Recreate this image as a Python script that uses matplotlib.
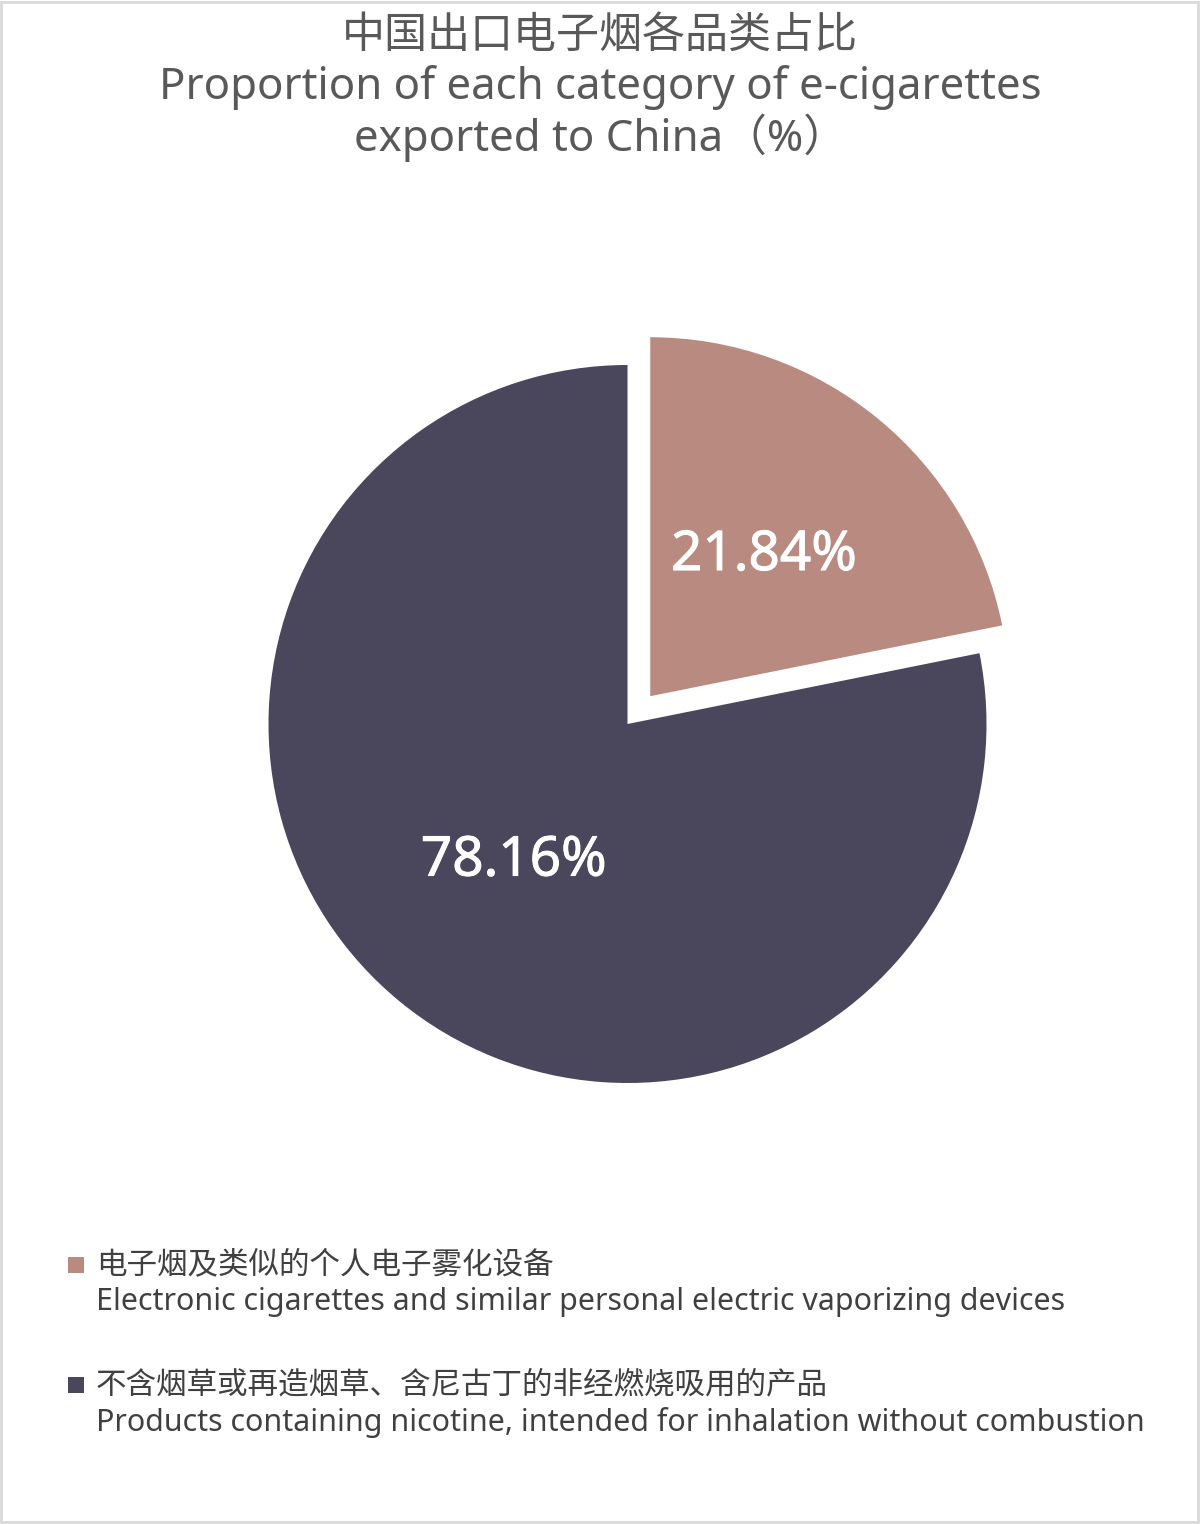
import matplotlib.pyplot as plt
import matplotlib.patheffects as pe
from matplotlib.patches import Rectangle
import numpy as np

plt.rcParams['font.family'] = ['Noto Sans', 'Noto Sans CJK SC', 'DejaVu Sans']

# data
values = [21.84, 78.16]
colors = ['#b98a80', '#4a465b']
names_cn = ['电子烟及类似的个人电子雾化设备',
            '不含烟草或再造烟草、含尼古丁的非经燃烧吸用的产品']
names_en = ['Electronic cigarettes and similar personal electric vaporizing devices',
            'Products containing nicotine, intended for inhalation without combustion']
title_lines = ['中国出口电子烟各品类占比',
               'Proportion of each category of e-cigarettes',
               'exported to China（%）']

W, H = 1200, 1524
fig = plt.figure(figsize=(W / 100, H / 100), dpi=100)
fig.patch.set_facecolor('white')

# pie axes, placed by pixels
R = 359
cx, cy = 627.5, 724
half = 1.2 * R
ax = fig.add_axes([(cx - half) / W, (H - cy - half) / H, 2 * half / W, 2 * half / H])
wedges = ax.pie(values, colors=colors, startangle=90, counterclock=False,
                explode=[0.1, 0], radius=1,
                wedgeprops=dict(linewidth=0))[0]
ax.set_xlim(-1.2, 1.2)
ax.set_ylim(-1.2, 1.2)
ax.set_aspect('equal')
ax.axis('off')

# percentage labels at half radius (thin stroke to look medium weight)
for w, v in zip(wedges, values):
    mid = np.deg2rad((w.theta1 + w.theta2) / 2)
    ox, oy = w.center
    ax.text(ox + 0.5 * np.cos(mid), oy + 0.5 * np.sin(mid) + 0.005, f'{v:.2f}%',
            ha='center', va='center', color='white', fontsize=39.5,
            path_effects=[pe.withStroke(linewidth=0.7, foreground='white')])

# title
title_sizes = [31, 31.5, 31.5]
title_y = [37, 88, 138]
for line, s, y in zip(title_lines, title_sizes, title_y):
    fig.text(0.5, 1 - y / H, line, ha='center', va='center',
             color='#595959', fontsize=s)

# legend
for i, (c, cn, en) in enumerate(zip(colors, names_cn, names_en)):
    y0 = 1265 + 120 * i
    fig.add_artist(Rectangle((68 / W, 1 - (y0 + 8) / H), 16 / W, 16 / H,
                             transform=fig.transFigure, color=c, lw=0))
    fig.text(96 / W, 1 - y0 / H, cn, ha='left', va='center', color='#404040', fontsize=22)
    fig.text(96 / W, 1 - (y0 + 37) / H, en, ha='left', va='center', color='#404040', fontsize=21.9)

# thin frame around the picture
fig.add_artist(Rectangle((0.001, 0.001), 0.997, 0.998, transform=fig.transFigure,
                         fill=False, edgecolor='#d9d9d9', lw=2))

fig.savefig('out.png', dpi=100, facecolor='white')
